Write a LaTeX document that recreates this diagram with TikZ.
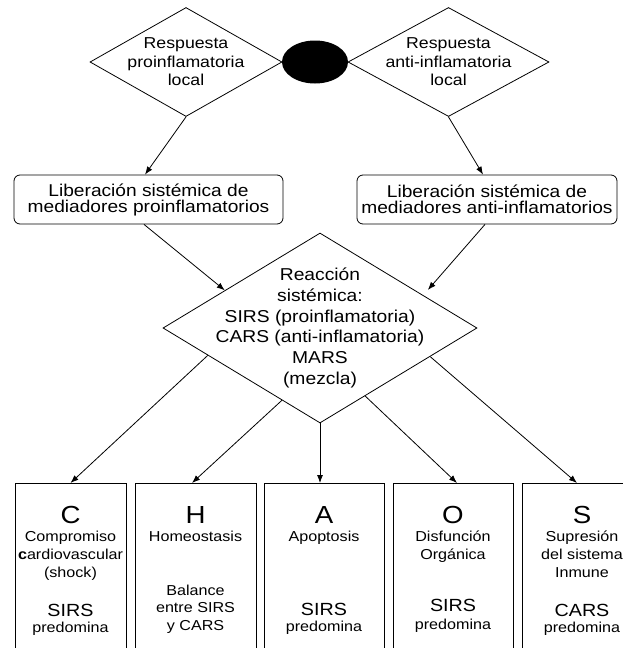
\documentclass[tikz,border=0pt]{standalone}
\usepackage{fontspec}
\setmainfont{Liberation Sans}[FakeStretch=1.12]
\usetikzlibrary{shapes.geometric,arrows.meta,calc,positioning}

\begin{document}
\begin{tikzpicture}
[x = 1pt, y = -1pt, >={Latex[length=8pt,width=6pt]}, line width = 0.8pt,
rombo/.style = {draw, diamond, inner sep = 0pt},
rtxt/.style = {align = center, inner sep = 0pt, font = \fontsize{15.8}{18.5}\selectfont},
gtxt/.style = {align = center, inner sep = 0pt, font = \fontsize{17.2}{20.8}\selectfont},
caja/.style = {draw, rectangle, rounded corners = 6pt, minimum height = 49pt, inner sep = 0pt, align = center, font = \fontsize{17.1}{16}\selectfont},
organo/.style = {draw, rectangle, anchor = north, minimum height = 175pt, inner sep = 0pt},
otxt/.style = {anchor = north, align = center, inner sep = 0pt, yshift = -23pt, font = \fontsize{14.4}{18}\selectfont}]
\useasboundingbox (0,0) rectangle (622,648);
\node (pro) at (186,62)[rombo, minimum width = 192pt, minimum height = 109pt, label = {[rtxt]center:Respuesta\\proinflamatoria\\local}] {};
\node (anti) at (448.5,62)[rombo, minimum width = 201pt, minimum height = 109pt, label = {[rtxt]center:Respuesta\\anti-inflamatoria\\local}] {};
\node (foco) at (315,62)[ellipse, fill = black, minimum width = 66pt, minimum height = 43pt, inner sep = 0pt] {};
\node (libpro) at (148.5,199.5)[caja, minimum width = 269pt] {Liberación sistémica de\\mediadores proinflamatorios};
\node (libanti) at (487,199.5)[caja, minimum width = 260pt] {Liberación sistémica de\\mediadores anti-inflamatorios};
\node (reac) at (320,328)[rombo, minimum width = 314pt, minimum height = 190pt, label = {[gtxt]center:Reacción\\sistémica:\\SIRS (proinflamatoria)\\CARS (anti-inflamatoria)\\MARS\\(mezcla)}] {};
\node (C) at (70.5,483)[organo, minimum width = 111pt, label = {[otxt]north:{\fontsize{24.7}{18}\selectfont C}\\Compromiso\\\textbf{c}ardiovascular\\(shock)\\[21pt]{\fontsize{17.6}{18}\selectfont SIRS}\\[-2pt]predomina}] {};
\node (H) at (195.5,483)[organo, minimum width = 121pt, label = {[otxt]north:{\fontsize{24.7}{18}\selectfont H}\\Homeostasis\\[36pt]Balance\\[-1pt]entre SIRS\\y CARS}] {};
\node (A) at (324,483)[organo, minimum width = 120pt, label = {[otxt]north:{\fontsize{24.7}{18}\selectfont A}\\Apoptosis\\[56pt]{\fontsize{17.6}{18}\selectfont SIRS}\\[-2pt]predomina}] {};
\node (O) at (453,483)[organo, minimum width = 120pt, label = {[otxt]north:{\fontsize{24.7}{18}\selectfont O}\\Disfunción\\Orgánica\\[34pt]{\fontsize{17.6}{18}\selectfont SIRS}\\[0pt]predomina}] {};
\node (S) at (582,483)[organo, minimum width = 120pt, label = {[otxt]north:{\fontsize{24.7}{18}\selectfont S}\\Supresión\\del sistema\\Inmune\\[21pt]{\fontsize{17.6}{18}\selectfont CARS}\\[-2pt]predomina}] {};
\draw [->] (pro.south) -- ([xshift=-3.5pt]libpro.north);
\draw [->] (anti.south) -- ([xshift=-4pt]libanti.north);
\draw [->] ([xshift=-4.5pt]libpro.south) -- ($(reac.west)!0.395!(reac.north)$);
\draw [->, shorten >= 7pt] ([xshift=-2pt]libanti.south) -- ($(reac.north)!0.656!(reac.east)$);
\draw [->] ($(reac.west)!0.287!(reac.south)$) -- (C.north);
\draw [->] ($(reac.west)!0.758!(reac.south)$) -- ([xshift=-3.5pt]H.north);
\draw [->] (reac.south) -- ([xshift=-4pt]A.north);
\draw [->] ($(reac.south)!0.287!(reac.east)$) -- ([xshift=4pt]O.north);
\draw [->] ($(reac.south)!0.70!(reac.east)$) -- ([xshift=-5pt]S.north);
\end{tikzpicture}
\end{document}
